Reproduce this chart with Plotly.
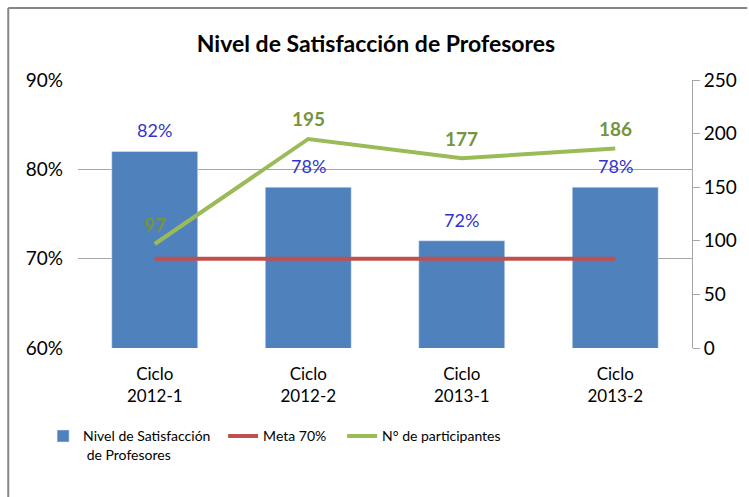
import plotly.graph_objects as go

# data
ciclos = ["Ciclo<br>2012-1", "Ciclo<br>2012-2", "Ciclo<br>2013-1", "Ciclo<br>2013-2"]
satisfaccion = [0.82, 0.78, 0.72, 0.78]
meta = [0.70, 0.70, 0.70, 0.70]
participantes = [97, 195, 177, 186]

FONT = "Lato"
GRID = "#A6A6A6"

fig = go.Figure()

fig.add_trace(
    go.Bar(
        x=ciclos,
        y=satisfaccion,
        name="Nivel de Satisfacción<br> de Profesores",
        marker=dict(color="#4F81BD"),
        legendwidth=135,
    )
)
fig.add_trace(
    go.Scatter(
        x=ciclos,
        y=meta,
        name="Meta 70%",
        mode="lines",
        line=dict(color="#C0504D", width=4),
        legendwidth=74,
    )
)
fig.add_trace(
    go.Scatter(
        x=ciclos,
        y=participantes,
        name="N° de participantes",
        mode="lines",
        line=dict(color="#9BBB59", width=4),
        yaxis="y2",
    )
)

# data labels
for c, v in zip(ciclos, satisfaccion):
    fig.add_annotation(
        x=c, y=v, xref="x", yref="y", text=f"{v:.0%}", showarrow=False,
        yshift=21, font=dict(family=FONT, size=18, color="#3333CC"),
    )
for c, v in zip(ciclos, participantes):
    fig.add_annotation(
        x=c, y=v, xref="x", yref="y2", text=f"<b>{v}</b>", showarrow=False,
        yshift=20, font=dict(family=FONT, size=19, color="#77933C"),
    )

# outer frame (left and top edge of the Excel chart area)
frame = dict(type="line", xref="paper", yref="paper", line=dict(color="#868686", width=2))
fig.add_shape(x0=-0.1136, x1=-0.1136, y0=1.2687, y1=-0.56, **frame)
fig.add_shape(x0=-0.1136, x1=1.09, y0=1.2687, y1=1.2687, **frame)

fig.update_layout(
    width=749,
    height=497,
    margin=dict(l=78, r=55, t=80, b=149),
    paper_bgcolor="white",
    plot_bgcolor="white",
    font=dict(family=FONT, size=17, color="#000000"),
    title=dict(
        text="<b>Nivel de Satisfacción de Profesores</b>",
        x=0.502, xanchor="center", y=0.911, yanchor="middle",
        font=dict(family=FONT, size=23, color="#000000"),
    ),
    bargap=0.44,
    showlegend=True,
    legend=dict(
        orientation="h",
        x=-0.0568, xanchor="left",
        y=-0.27, yanchor="top",
        font=dict(family=FONT, size=14),
        valign="top",
        traceorder="normal",
    ),
    xaxis=dict(
        showgrid=False,
        showline=False,
        ticks="",
        ticklabelstandoff=14,
        tickfont=dict(family=FONT, size=17),
    ),
    yaxis=dict(
        range=[0.6, 0.9],
        dtick=0.1,
        tickformat=".0%",
        showgrid=True,
        gridcolor=GRID,
        gridwidth=1,
        zeroline=False,
        showline=False,
        ticks="",
        ticklabelstandoff=14,
        tickfont=dict(family=FONT, size=19),
    ),
    yaxis2=dict(
        range=[0, 250],
        dtick=50,
        overlaying="y",
        side="right",
        showgrid=False,
        zeroline=False,
        showline=True,
        linecolor=GRID,
        linewidth=1,
        ticks="outside",
        ticklen=7,
        tickcolor=GRID,
        tickfont=dict(family=FONT, size=19),
    ),
)

fig.write_html(
    "out.html",
    config={"displayModeBar": False},
    post_script="document.body.style.margin='0px';",
)
